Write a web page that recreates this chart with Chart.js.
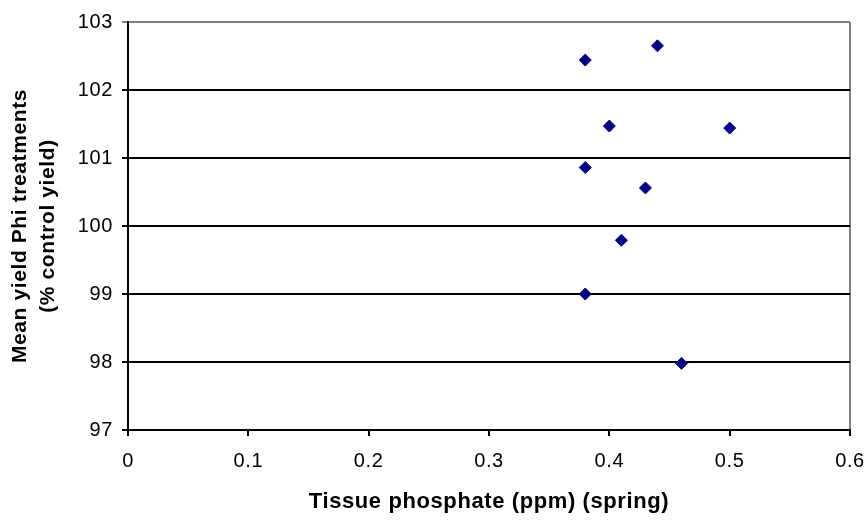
<!DOCTYPE html>
<html>
<head>
<meta charset="utf-8">
<script src="https://cdn.jsdelivr.net/npm/chart.js@4"></script>
<style>
  html, body { margin: 0; padding: 0; background: #fff; }
  #wrap { width: 866px; height: 520px; position: relative; }
</style>
</head>
<body>
<div id="wrap"><canvas id="c"></canvas></div>
<script>
// Data
const tissuePhosphate = [0.38, 0.44, 0.40, 0.50, 0.38, 0.43, 0.41, 0.38, 0.46];
const meanYield = [102.44, 102.65, 101.47, 101.44, 100.86, 100.56, 99.79, 99.00, 97.98];
const xTitle = 'Tissue phosphate (ppm) (spring)';
const yTitle = ['Mean yield Phi treatments', '(% control yield)'];
const xMin = 0, xMax = 0.6, xStep = 0.1;
const yMin = 97, yMax = 103, yStep = 1;

const points = tissuePhosphate.map((x, i) => ({ x: x, y: meanYield[i] }));

const FONT = "'Liberation Sans', Arial, sans-serif";

const spacingPlugin = {
  id: 'spacing',
  beforeLayout(chart) { chart.ctx.letterSpacing = '0.6px'; },
  beforeDraw(chart) { chart.ctx.letterSpacing = '0.6px'; }
};

new Chart(document.getElementById('c'), {
  type: 'scatter',
  data: {
    datasets: [{
      data: points,
      pointStyle: 'rectRot',
      pointRadius: 6,
      pointHoverRadius: 6,
      borderWidth: 1,
      backgroundColor: '#000080',
      borderColor: '#000080'
    }]
  },
  options: {
    responsive: true,
    maintainAspectRatio: false,
    animation: false,
    events: [],
    layout: { padding: { left: 0, top: 22, right: 16, bottom: 0 } },
    plugins: {
      legend: { display: false },
      tooltip: { enabled: false },
      title: { display: false }
    },
    scales: {
      x: {
        type: 'linear',
        min: xMin, max: xMax,
        afterFit(scale) {
          scale.height = 90;
          scale.paddingLeft = 0; scale.paddingRight = 0;
          scale.paddingTop = 0; scale.paddingBottom = 0;
        },
        ticks: {
          stepSize: xStep,
          color: '#000',
          padding: 13,
          font: { family: FONT, size: 20 },
          callback: v => String(Math.round(v * 10) / 10)
        },
        grid: {
          drawOnChartArea: true,
          lineWidth: 2,
          color: ctx => (ctx.tick && Math.abs(ctx.tick.value - xMax) < 1e-9) ? '#808080' : 'rgba(0,0,0,0)',
          tickColor: '#000',
          tickLength: 6,
          tickWidth: 2
        },
        border: { display: true, color: '#000', width: 2 },
        title: {
          display: true,
          text: xTitle,
          color: '#000',
          font: { family: FONT, size: 22, weight: 'bold', lineHeight: 1.2 },
          padding: { top: 0, bottom: 5 }
        }
      },
      y: {
        type: 'linear',
        min: yMin, max: yMax,
        afterFit(scale) {
          scale.width = 128;
          scale.paddingLeft = 0; scale.paddingRight = 0;
          scale.paddingTop = 0; scale.paddingBottom = 0;
        },
        ticks: {
          stepSize: yStep,
          color: '#000',
          padding: 9,
          font: { family: FONT, size: 20 }
        },
        grid: {
          lineWidth: 2,
          color: ctx => (ctx.tick && ctx.tick.value === yMax) ? '#808080' : '#000',
          tickColor: ctx => (ctx.tick && ctx.tick.value === yMax) ? '#808080' : '#000',
          tickLength: 6,
          tickWidth: 2
        },
        border: { display: true, color: '#000', width: 2 },
        title: {
          display: true,
          text: yTitle,
          color: '#000',
          font: { family: FONT, size: 21, weight: 'bold', lineHeight: 1.3 },
          padding: { top: 7, bottom: 0 }
        }
      }
    }
  },
  plugins: [spacingPlugin]
});
</script>
</body>
</html>
